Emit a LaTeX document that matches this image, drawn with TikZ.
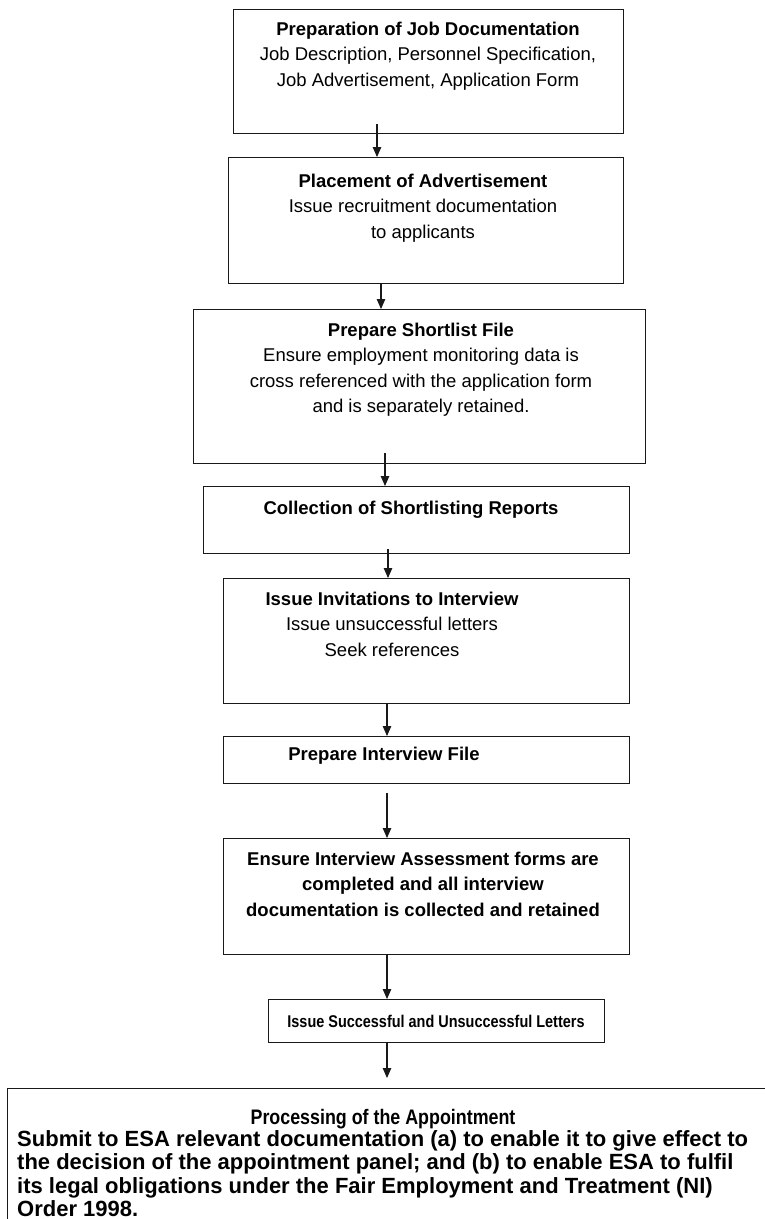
\documentclass[tikz,border=0pt]{standalone}
\usepackage{fontspec}
\setmainfont{Liberation Sans}
\newfontfamily\narrowsans[FakeStretch=0.85]{Liberation Sans}
\usetikzlibrary{arrows.meta,calc}

\tikzset{
  stagebox/.style={draw=black!90, line width=1.3pt, inner sep=0pt, anchor=north west},
  stagetext/.style={align=center, inner sep=0pt, anchor=north,
    font=\fontsize{18.5}{25.5}\selectfont},
  flow/.style={draw=black!90, line width=1.1pt, -{Triangle[length=10pt,width=8.5pt]}}
}

\begin{document}
\begin{tikzpicture}[x=1pt,y=-1pt]
  \useasboundingbox (0,0) rectangle (765,1219);
  \clip (0,0) rectangle (765,1219);
  \fill[white] (0,0) rectangle (765,1219);

  % stage frames
  \node[stagebox, minimum width=390, minimum height=124] (b1) at (233,9) {};
  \node[stagebox, minimum width=395, minimum height=126] (b2) at (228,157) {};
  \node[stagebox, minimum width=452, minimum height=154] (b3) at (193,309) {};
  \node[stagebox, minimum width=426, minimum height=67]  (b4) at (203,486) {};
  \node[stagebox, minimum width=406, minimum height=125] (b5) at (223,578) {};
  \node[stagebox, minimum width=406, minimum height=47]  (b6) at (223,736) {};
  \node[stagebox, minimum width=406, minimum height=116] (b7) at (223,838) {};
  \node[stagebox, minimum width=336, minimum height=43]  (b8) at (268,999) {};
  \node[stagebox, minimum width=800, minimum height=200] (b9) at (7,1088) {};

  % stage texts
  \node[stagetext] (t1) at (428,21.5) {{\bfseries Preparation of Job Documentation}\\
    Job Description, Personnel Specification,\\Job Advertisement, Application Form};
  \node[stagetext] (t2) at (423,173.5) {{\bfseries Placement of Advertisement}\\
    Issue recruitment documentation\\to applicants};
  \node[stagetext] (t3) at (421,322.5) {{\bfseries Prepare Shortlist File}\\
    Ensure employment monitoring data is\\cross referenced with the application form\\
    and is separately retained.};
  \node[stagetext] (t4) at (411,500.5) {\bfseries Collection of Shortlisting Reports};
  \node[stagetext] (t5) at (392,591.5) {{\bfseries Issue Invitations to Interview}\\
    Issue unsuccessful letters\\Seek references};
  \node[stagetext] (t6) at (384,746.5) {\bfseries Prepare Interview File};
  \node[stagetext, font=\fontsize{18.5}{25.5}\selectfont\bfseries] (t7) at (423,851.5)
    {Ensure Interview Assessment forms are\\completed and all interview\\
     documentation is collected and retained};
  \node[stagetext, font=\fontsize{17}{20}\narrowsans\bfseries] (t8) at (436,1014.5)
    {Issue Successful and Unsuccessful Letters};
  \node[stagetext, font=\fontsize{21}{23.5}\narrowsans\bfseries] (t9) at (383,1109.5)
    {Processing of the Appointment};
  \node[align=left, inner sep=0pt, anchor=north west,
    font=\fontsize{22}{23.5}\selectfont\bfseries] (t10) at (17,1130)
    {Submit to ESA relevant documentation (a) to enable it to give effect to\\
     the decision of the appointment panel; and (b) to enable ESA to fulfil\\
     its legal obligations under the Fair Employment and Treatment (NI)\\
     Order 1998.};

  % connector columns
  \coordinate (a1) at (377,0);
  \coordinate (a2) at (381,0);
  \coordinate (a3) at (385,0);
  \coordinate (a4) at (388,0);
  \coordinate (a5) at (387,0);
  \coordinate (a6) at (387,0);
  \coordinate (a7) at (387,0);
  \coordinate (a8) at (387,0);

  % connectors
  \draw[flow] ($(b1.south -| a1)+(0,-10)$) -- (b2.north -| a1);
  \draw[flow] (b2.south -| a2) -- (b3.north -| a2);
  \draw[flow] ($(b3.south -| a3)+(0,-11)$) -- (b4.north -| a3);
  \draw[flow] ($(b4.south -| a4)+(0,-5)$) -- (b5.north -| a4);
  \draw[flow] (b5.south -| a5) -- (b6.north -| a5);
  \draw[flow] ($(b6.south -| a6)+(0,9)$) -- (b7.north -| a6);
  \draw[flow] (b7.south -| a7) -- (b8.north -| a7);
  \draw[flow] (b8.south -| a8) -- ($(b9.north -| a8)+(0,-10)$);
\end{tikzpicture}
\end{document}
